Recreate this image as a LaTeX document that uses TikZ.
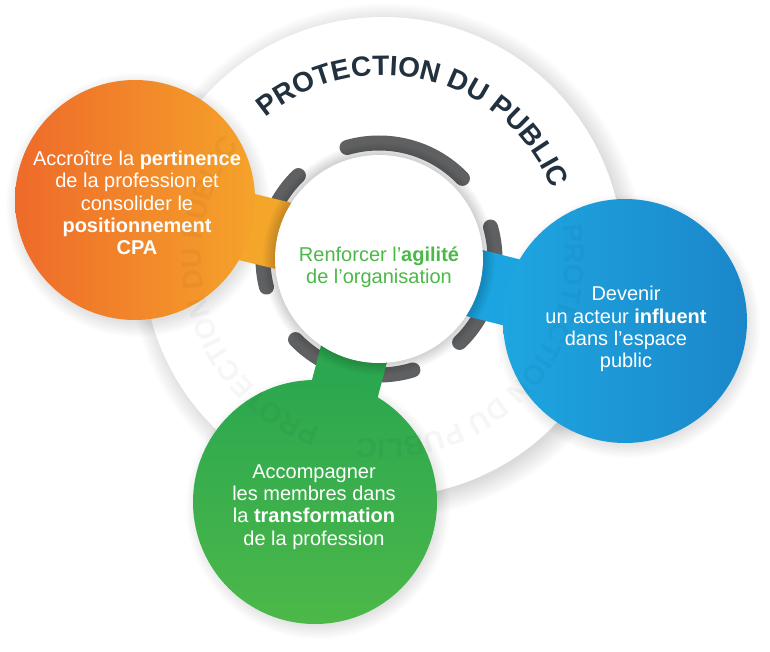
\documentclass[tikz,border=0pt]{standalone}
\usepackage{fontspec}
\setmainfont{Liberation Sans}
\usetikzlibrary{calc,decorations.text}
\pgfdeclarelayer{background}
\pgfdeclarelayer{tabs}
\pgfdeclarelayer{foreground}
\pgfsetlayers{background,tabs,main,foreground}
\definecolor{pubdark}{HTML}{22313F}
\definecolor{arcgrey}{HTML}{5E6062}
\definecolor{agilegreen}{HTML}{4CB848}
\definecolor{orangeL}{HTML}{EE6A2A}
\definecolor{orangeR}{HTML}{F5A32A}
\definecolor{orangeTab}{HTML}{F4A62B}
\definecolor{blueL}{HTML}{1EA6E0}
\definecolor{blueR}{HTML}{1B87CA}
\definecolor{blueTab}{HTML}{1BA4DF}
\definecolor{greenT}{HTML}{2CA74F}
\definecolor{greenB}{HTML}{4CB849}
\definecolor{greenTab}{HTML}{2BA84F}

\begin{document}
\begin{tikzpicture}[x=1pt,y=1pt]
\tikzset{font={\fontsize{20}{22.3}\selectfont}}
\tikzset{bubble/.style={circle, minimum size=240pt, inner sep=0pt},
bubbletext/.style={align=center, text=white, inner sep=0pt},
arcseg/.style={arcgrey, line width=15pt, line cap=round},
ringtext/.style={decorate, decoration={text along path, text align=center,
  text={|\fontsize{28}{30}\selectfont\bfseries|PROTECTION DU PUBLIC}}}}
\useasboundingbox (0,0) rectangle (770,-652);

%Ring
\coordinate (mid) at (383,-257);
\begin{pgfonlayer}{background}
\fill[white] (0,0) rectangle (770,-652);
\foreach \k in {1,...,12}
\fill[black,opacity=0.013] ([shift={(4,-4)}]mid) circle[radius=236pt+\k*1.8pt];
\fill[white] (mid) circle[radius=240pt];
\end{pgfonlayer}

%Core and bubbles
\node[circle, fill=white, minimum size=208pt, inner sep=0pt] (core) at (379,-259) {};
\node[text=agilegreen, align=center, inner sep=0pt] (agile) at (379,-267)
{Renforcer l’\textbf{agilité}\\de l’organisation};

\node[bubble, left color=orangeL, right color=orangeR] (accbub) at (135,-200) {};
\node[bubble, minimum size=244pt, left color=blueL, right color=blueR] (inflbub) at (625,-321) {};
\node[bubble, minimum size=244pt, top color=greenT, bottom color=greenB] (transbub) at (315,-502) {};

\node[bubbletext] (acctext) at (137,-203)
{Accroître la \textbf{pertinence}\\de la profession et\\consolider le\\\textbf{positionnement}\\\textbf{CPA}};
\node[bubbletext] (infltext) at (626,-329)
{Devenir\\un acteur \textbf{influent}\\dans l’espace\\public};
\node[bubbletext] (transtext) at (314,-507)
{Accompagner\\les membres dans\\la \textbf{transformation}\\de la profession};

%Arcs and shadows
\begin{pgfonlayer}{background}
\foreach \a/\b in {44/106,134/194,224/287,-46/16}
\draw[arcseg] (core.center) ++(\a:116pt) arc[start angle=\a, end angle=\b, radius=116pt];
\foreach \n in {accbub,inflbub,transbub}
\foreach \k in {1,...,10}
\fill[black,opacity=0.012] ([shift={(3,-5)}]\n.center) circle[radius=116pt+\k*1.6pt];
\end{pgfonlayer}

%Tabs
\begin{pgfonlayer}{tabs}
\foreach \n/\c in {accbub/orangeTab,inflbub/blueTab,transbub/greenTab}
\fill[\c] ($(\n)!34pt!90:(core)$) -- ($(\n)!34pt!-90:(core)$)
 -- ($(core)!34pt!90:(\n)$) -- ($(core)!34pt!-90:(\n)$) -- cycle;
\foreach \k in {1,...,8}
\fill[black,opacity=0.022] (core.center) circle[radius=103pt+\k*1.6pt];
\end{pgfonlayer}

%Title
\begin{pgfonlayer}{foreground}
\path[ringtext, decoration={text color=pubdark}]
 (mid) ++(136:182pt) arc[start angle=136, end angle=16, radius=182pt];
\begin{scope}[transparency group, opacity=0.035]
\foreach \a in {16,-104}
\path[ringtext, decoration={text color=black}]
 (mid) ++(\a:182pt) arc[start angle=\a, end angle=\a-120, radius=182pt];
\end{scope}
\end{pgfonlayer}
\end{tikzpicture}
\end{document}
